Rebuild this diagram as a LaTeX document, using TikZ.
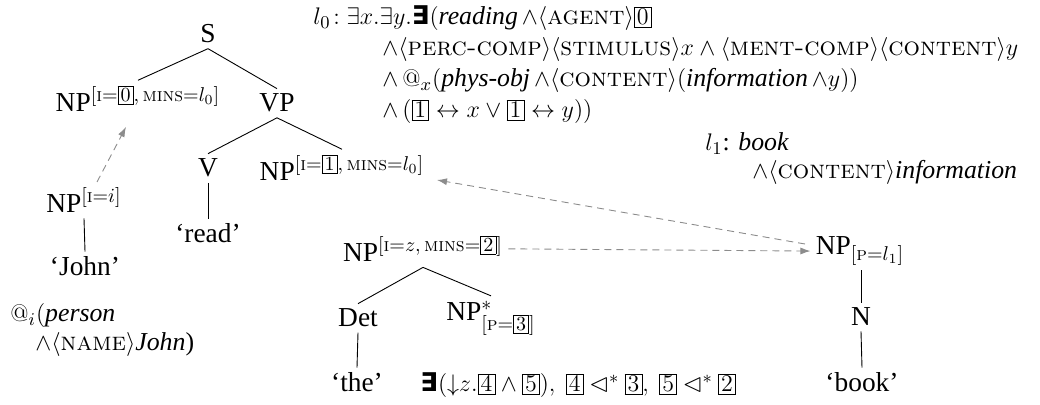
\documentclass[tikz,border=0pt]{standalone}
\usepackage{amsmath,amssymb}
\usepackage[no-math]{fontspec}
\setmainfont{Liberation Serif}[ItalicFont={LiberationSerif-Italic},BoldFont={Liberation Serif Bold}]
\newfontfamily\dejavu{DejaVu Sans}
\usetikzlibrary{arrows.meta,calc}
\newcommand\smc[1]{{\fontfamily{lmr}\selectfont\scshape #1}}
\newcommand\bn[1]{\text{\fboxsep=1.1pt\fboxrule=0.4pt\fbox{$#1$}}}
\newcommand\bex{\text{\dejavu\bfseries ∃}}
\newcommand\ang[1]{\langle\text{\smc{#1}}\rangle}
\tikzset{
  lbl/.style={inner sep=2.5pt, anchor=base, font=\fontsize{13.7}{16}\selectfont},
  fml/.style={inner sep=0pt, anchor=base west, font=\fontsize{12.9}{15}\selectfont},
  edge/.style={draw=black, line width=0.45pt},
  link/.style={draw=black!45, line width=0.45pt, dash pattern=on 3.5pt off 2.5pt, -{Latex[length=5pt,width=3.5pt]}}
}
\begin{document}
\begin{tikzpicture}[x=0.5pt,y=-0.5pt]
\useasboundingbox (0,0) rectangle (1040,405);
% formula
\node[fml] (f1) at (313,25) {$l_0\!:\exists x.\exists y.$\bex$($\textit{reading}$\,\wedge\ang{agent}\bn{0}$};
\node[fml] (f2) at (382,56) {$\wedge\ang{perc-comp}\ang{stimulus}x\wedge\ang{ment-comp}\ang{content}y$};
\node[fml] (f3) at (382,87) {$\wedge\, @_x($\textit{phys-obj}$\,\wedge\ang{content}($\textit{information}$\,\wedge y))$};
\node[fml] (f4) at (382,118) {$\wedge\,(\bn{1}\leftrightarrow x\vee\bn{1}\leftrightarrow y))$};
\node[fml] (l1a) at (705,151) {$l_1$: \textit{book}};
\node[fml] (l1b) at (752,179) {$\wedge\ang{content}$\textit{information}};
\node[fml] (ja) at (10,322) {$@_i($\textit{person}};
\node[fml] (jb) at (35,351) {$\wedge\ang{name}$\textit{John})};
% tree 1
\node[lbl] (S) at (208,43) {S};
\node[lbl] (np0) at (138,112) {NP$^{[\text{\smc{i}}=\bn{0},\,\text{\smc{mins}}=l_0]}$};
\node[lbl] (vp) at (277,112) {VP};
\node[lbl] (v) at (208,177) {V};
\node[lbl] (np1) at (342,181) {NP$^{[\text{\smc{i}}=\bn{1},\,\text{\smc{mins}}=l_0]}$};
\node[lbl] (read) at (208,243) {‘read’};
\node[lbl] (npi) at (84,213) {NP$^{[\text{\smc{i}}=i]}$};
\node[lbl] (john) at (85,276) {‘John’};
% tree 2
\node[lbl] (npz) at (423,262) {NP$^{[\text{\smc{i}}=z,\,\text{\smc{mins}}=\bn{2}]}$};
\node[lbl] (det) at (358,327) {Det};
\node[lbl] (nps) at (491,321) {NP$^*_{[\text{\smc{p}}=\bn{3}]}$};
\node[lbl] (the) at (357,392) {‘the’};
\node[fml] (ex) at (420,392) {\bex$(\mathord{\downarrow}z.\bn{4}\wedge\bn{5}),\ \bn{4}\lhd^*\bn{3},\ \bn{5}\lhd^*\bn{2}$};
% tree 3
\node[lbl] (npl) at (860,255) {NP$_{[\text{\smc{p}}=l_1]}$};
\node[lbl] (n) at (861,326) {N};
\node[lbl] (book) at (862,392) {‘book’};
% edges
\draw[edge] (S.south) -- (np0.north);
\draw[edge] (S.south) -- (vp.north);
\draw[edge] (vp.south) -- (v.north);
\draw[edge] (vp.south) -- (np1.north);
\draw[edge] (v.south) -- (read.north);
\draw[edge] (npi.south) -- (john.north);
\draw[edge] (npz.south) -- (det.north);
\draw[edge] (npz.south) -- (nps.north);
\draw[edge] (det.south) -- (the.north);
\draw[edge] (npl.south -| n) -- (n.north);
\draw[edge] (n.south) -- (book.north);
% links
\coordinate (box0) at (126,127);
\coordinate (npif) at (97,182);
\draw[link] (npif) -- (box0);
\draw[link] (npz.east) -- (npl.west);
\coordinate (npls) at (805,244);
\coordinate (np1e) at (437,180);
\draw[link] (npls) -- (np1e);
\end{tikzpicture}
\end{document}
